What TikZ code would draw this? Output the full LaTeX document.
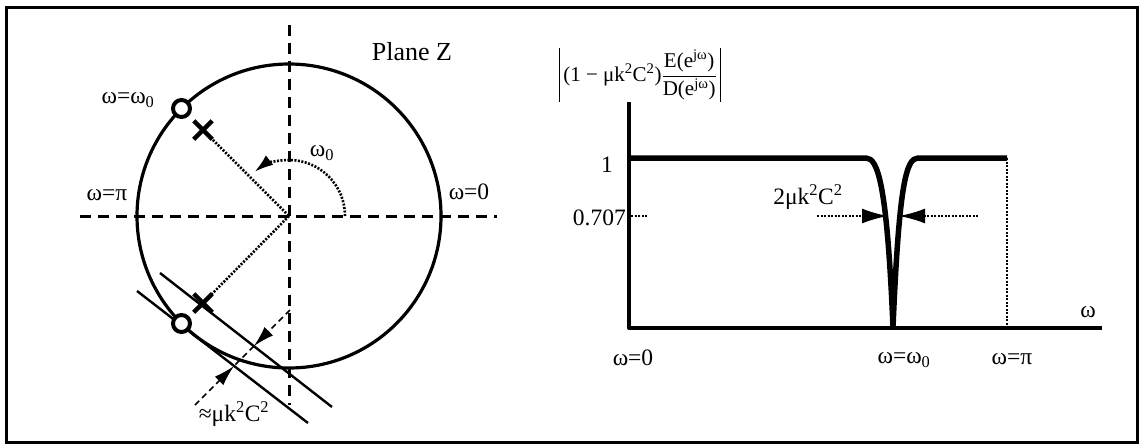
\documentclass[tikz,border=0pt]{standalone}
\usepackage{fontspec}
\setmainfont{Liberation Serif}
\usetikzlibrary{arrows.meta,shapes.misc}
\begin{document}
\begin{tikzpicture}[x=1pt,y=-1pt,
  lab/.style={font=\fontsize{23.5}{27}\selectfont, inner sep=0pt},
  axisdash/.style={line width=3pt, dash pattern=on 11pt off 7pt},
  dotline/.style={line width=2.6pt, dash pattern=on 2pt off 1.5pt},
  dimdash/.style={line width=1.6pt, dash pattern=on 6pt off 4pt},
  zero/.style={circle, draw, fill=white, line width=4pt, minimum size=17pt, inner sep=0pt},
  pole/.style={cross out, draw, line width=4.5pt, minimum size=14pt, inner sep=0pt},
  bigtip/.style={-{Latex[length=19pt,width=12pt]}},
  dimtip/.style={-{Latex[length=21pt,width=12pt]}},
  plottip/.style={-{Latex[length=26pt,width=15pt]}},
  thin line/.style={line width=2.4pt},
  curve/.style={line width=5.5pt, line join=round},
  axis/.style={line width=3.4pt}]
\useasboundingbox (0,0) rectangle (1140,445);
\draw[line width=3pt] (6,7) rectangle (1137,442);

% ---------- left: z-plane ----------
\coordinate (o) at (289,216);
\coordinate (hL) at (80,216);
\coordinate (hR) at (497,216);
\coordinate (vT) at (289,25);
\coordinate (vB) at (289,405);
\draw[axisdash] (hL) -- (hR);
\draw[axisdash] (vT) -- (vB);
\node[draw, circle, line width=3.2pt, minimum size=304pt, inner sep=0pt] (uc) at (o) {};

\coordinate (p1) at (203,130);
\coordinate (p2) at (203,303);
\draw[dotline] (p1) -- (o);
\draw[dotline] (o) -- (p2);
\draw[dotline, bigtip] (345,216) arc[start angle=0, end angle=-128, radius=56];
\node[lab] (w0) at (322,153) {ω\textsubscript{0}};

% tangent lines
\coordinate (to1) at (137,291);
\coordinate (to2) at (308,423);
\coordinate (ti1) at (160,273);
\coordinate (ti2) at (332,407);
\draw[thin line] (to1) -- (to2);
\draw[thin line] (ti1) -- (ti2);

\node[zero] (z1) at (181.5,108.5) {};
\node[zero] (z2) at (181.5,323.5) {};
\node[pole] (x1) at (p1) {};
\node[pole] (x2) at (p2) {};

% dimension
\coordinate (d1) at (290,310);
\coordinate (d2) at (195,405);
\coordinate (tA) at (intersection of d1--d2 and ti1--ti2);
\coordinate (tB) at (intersection of d1--d2 and to1--to2);
\draw[dimdash] (tA) -- (tB);
\draw[dimdash, dimtip] (d1) -- (tA);
\draw[dimdash, dimtip] (d2) -- (tB);
\node[lab] (mu) at (234,414) {≈μk\textsuperscript{2}C\textsuperscript{2}};

\node[lab] (lw0) at (128,100) {ω=ω\textsubscript{0}};
\node[lab] (lpi) at (107,195) {ω=π};
\node[lab] (lz) at (469,192) {ω=0};
\node[lab, font=\fontsize{26}{30}\selectfont] (pz) at (412,52) {Plane Z};

% ---------- right: magnitude plot ----------
\coordinate (yT) at (629,102);
\coordinate (org) at (629,328);
\coordinate (xR) at (1102,328);
\draw[axis, line join=round] (yT) -- (org) -- (xR);
\draw[curve] (629,158) -- (866,158) .. controls (878,158) and (887,185) .. (893,327)
  .. controls (899,185) and (906,158) .. (918,158) -- (1007,158);
\coordinate (piT) at (1007,158);
\coordinate (piB) at (1007,328);
\draw[dotline, line width=2pt] (piT) -- (piB);
\coordinate (t7a) at (631,216);
\coordinate (t7b) at (648,216);
\draw[dotline, line width=2pt] (t7a) -- (t7b);

\coordinate (aL) at (817,216);
\coordinate (aLt) at (888,216);
\coordinate (aR) at (978,216);
\coordinate (aRt) at (899,216);
\draw[dotline, line width=2pt, plottip] (aL) -- (aLt);
\draw[dotline, line width=2pt, plottip] (aR) -- (aRt);

\node[lab] (one) at (607,165) {1};
\node[lab, anchor=east] (p707) at (626,218) {0.707};
\node[lab] (bw) at (808,197) {2μk\textsuperscript{2}C\textsuperscript{2}};
\node[lab] (om) at (1088,312) {ω};
\node[lab] (x0) at (633,358) {ω=0};
\node[lab] (xw0) at (904,360) {ω=ω\textsubscript{0}};
\node[lab] (xpi) at (1012,359) {ω=π};

\node[inner xsep=4pt, inner ysep=2pt, font=\fontsize{21}{24}\selectfont] (form) at (640,75)
  {$\displaystyle\mbox{(1 − μk\textsuperscript{2}C\textsuperscript{2})}\frac{\mbox{E(e\textsuperscript{jω})}}{\mbox{D(e\textsuperscript{jω})}}$};
\draw[line width=1pt] (form.north west) -- (form.south west);
\draw[line width=1pt] (form.north east) -- (form.south east);
\end{tikzpicture}
\end{document}
